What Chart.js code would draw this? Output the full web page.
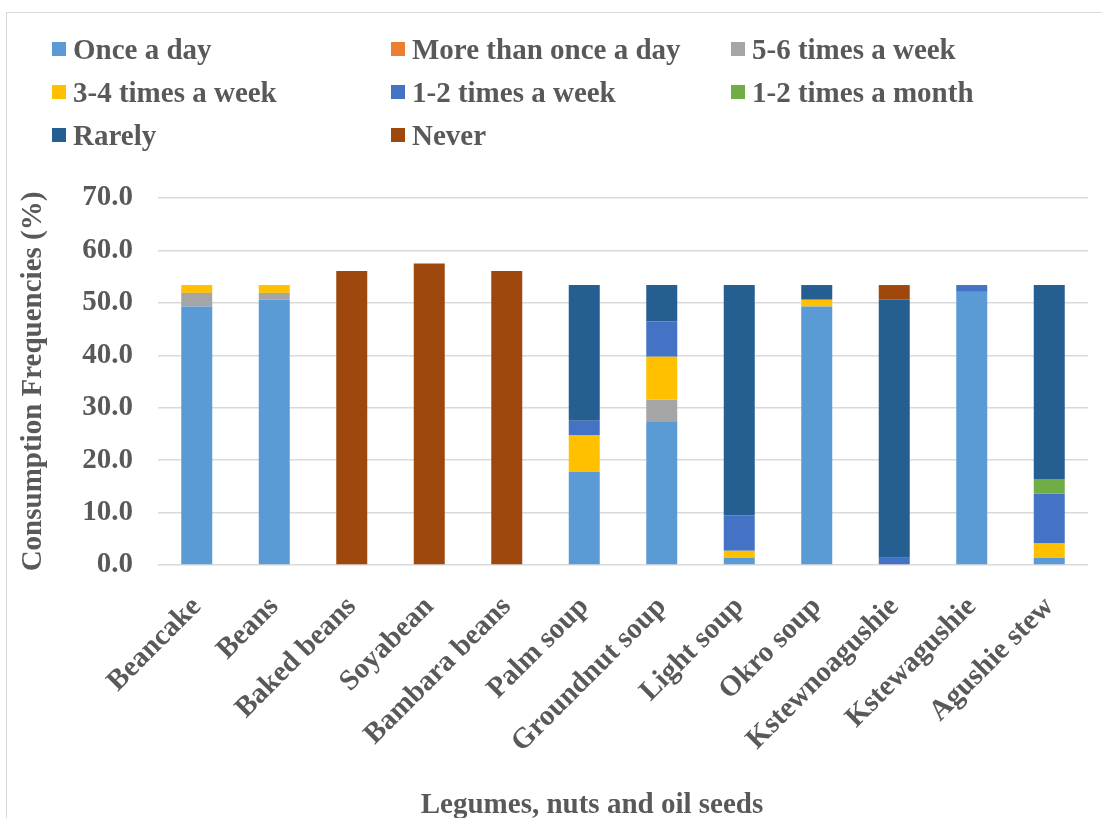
<!DOCTYPE html>
<html>
<head>
<meta charset="utf-8">
<script src="https://cdn.jsdelivr.net/npm/chart.js@4.4.1/dist/chart.umd.min.js"></script>
<style>
  html, body { margin: 0; padding: 0; background: #fff; overflow: hidden; }
  #frame { position: absolute; left: 6px; top: 12px; width: 1200px; height: 900px; border: 1px solid #d9d9d9; }
  #wrap { position: absolute; left: 0; top: 0; width: 1102px; height: 824px; }
  #legend { position: absolute; left: 0; top: 0; width: 1102px; height: 160px;
            font: bold 29px 'Liberation Serif', 'Times New Roman', serif; color: #595959; }
  .item { position: absolute; display: flex; align-items: center; height: 34px; white-space: nowrap; }
  .box { width: 14px; height: 14px; margin-right: 7px; flex: none; }
  #xtitle { position: absolute; left: 0; top: 789px; width: 1184px; text-align: center; white-space: nowrap;
            font: bold 29px/29px 'Liberation Serif', 'Times New Roman', serif; color: #595959; }
</style>
</head>
<body>
<div id="frame"></div>
<div id="wrap"><canvas id="chart"></canvas></div>
<div id="legend"></div>
<div id="xtitle">Legumes, nuts and oil seeds</div>
<script>
// Consumption frequency (%) of legumes, nuts and oil seeds
const categories = ['Beancake', 'Beans', 'Baked beans', 'Soyabean', 'Bambara beans', 'Palm soup',
    'Groundnut soup', 'Light soup', 'Okro soup', 'Kstewnoagushie', 'Kstewagushie', 'Agushie stew'];

const onceADay      = [49.3, 50.6, 0, 0, 0, 17.8, 27.4, 1.4, 49.3, 0, 52.1, 1.4];
const moreThanOnce  = [0, 0, 0, 0, 0, 0, 0, 0, 0, 0, 0, 0];
const fiveSixWeek   = [2.6, 1.3, 0, 0, 0, 0, 4.1, 0, 0, 0, 0, 0];
const threeFourWeek = [1.5, 1.5, 0, 0, 0, 6.9, 8.2, 1.3, 1.3, 0, 0, 2.7];
const oneTwoWeek    = [0, 0, 0, 0, 0, 2.8, 6.8, 6.8, 0, 1.4, 1.3, 9.5];
const oneTwoMonth   = [0, 0, 0, 0, 0, 0, 0, 0, 0, 0, 0, 2.8];
const rarely        = [0, 0, 0, 0, 0, 25.9, 6.9, 43.9, 2.8, 49.2, 0, 37.0];
const never         = [0, 0, 56.1, 57.5, 56.1, 0, 0, 0, 0, 2.8, 0, 0];

const seriesLabels = ['Once a day', 'More than once a day', '5-6 times a week', '3-4 times a week',
    '1-2 times a week', '1-2 times a month', 'Rarely', 'Never'];
const seriesData = [onceADay, moreThanOnce, fiveSixWeek, threeFourWeek, oneTwoWeek, oneTwoMonth, rarely, never];
const seriesColors = ['#5B9BD5', '#ED7D31', '#A5A5A5', '#FFC000', '#4472C4', '#70AD47', '#255E91', '#9E480E'];

const FONT = "'Liberation Serif', 'Times New Roman', serif";
const TEXT = '#595959';

// legend laid out in 3 columns like the original
const legendCols = [52, 391, 731];
const legendRows = [49, 92, 135];
const legend = document.getElementById('legend');
seriesLabels.forEach((label, i) => {
    const item = document.createElement('div');
    item.className = 'item';
    item.style.left = legendCols[i % 3] + 'px';
    item.style.top = (legendRows[Math.floor(i / 3)] - 17) + 'px';
    const box = document.createElement('span');
    box.className = 'box';
    box.style.background = seriesColors[i];
    item.appendChild(box);
    item.appendChild(document.createTextNode(label));
    legend.appendChild(item);
});

new Chart(document.getElementById('chart'), {
    type: 'bar',
    data: {
        labels: categories,
        datasets: seriesLabels.map((label, i) => ({
            label: label,
            data: seriesData[i],
            backgroundColor: seriesColors[i],
            borderWidth: 0,
            barPercentage: 0.4,
            categoryPercentage: 1.0
        }))
    },
    options: {
        responsive: true,
        maintainAspectRatio: false,
        animation: false,
        layout: { padding: { top: 198, right: 14, bottom: 0, left: 0 } },
        plugins: {
            legend: { display: false },
            tooltip: { enabled: false }
        },
        scales: {
            x: {
                stacked: true,
                grid: { display: false },
                border: { display: false },
                ticks: {
                    color: TEXT,
                    font: { family: FONT, size: 29, weight: 'bold' },
                    maxRotation: 45,
                    minRotation: 45,
                    padding: 17
                },
                afterFit: function(scale) { scale.height = 259; }
            },
            y: {
                stacked: true,
                min: 0,
                max: 70,
                grid: { color: '#d9d9d9', lineWidth: 1.5, drawTicks: false },
                border: { display: false },
                ticks: {
                    stepSize: 10,
                    padding: 25,
                    color: TEXT,
                    font: { family: FONT, size: 29, weight: 'bold' },
                    callback: function(value) { return value.toFixed(1); }
                },
                title: {
                    display: true,
                    text: 'Consumption Frequencies (%)',
                    color: TEXT,
                    font: { family: FONT, size: 29, weight: 'bold' },
                    padding: { top: 16, bottom: 0 }
                },
                afterFit: function(scale) { scale.width = 158; }
            }
        }
    }
});
</script>
</body>
</html>
